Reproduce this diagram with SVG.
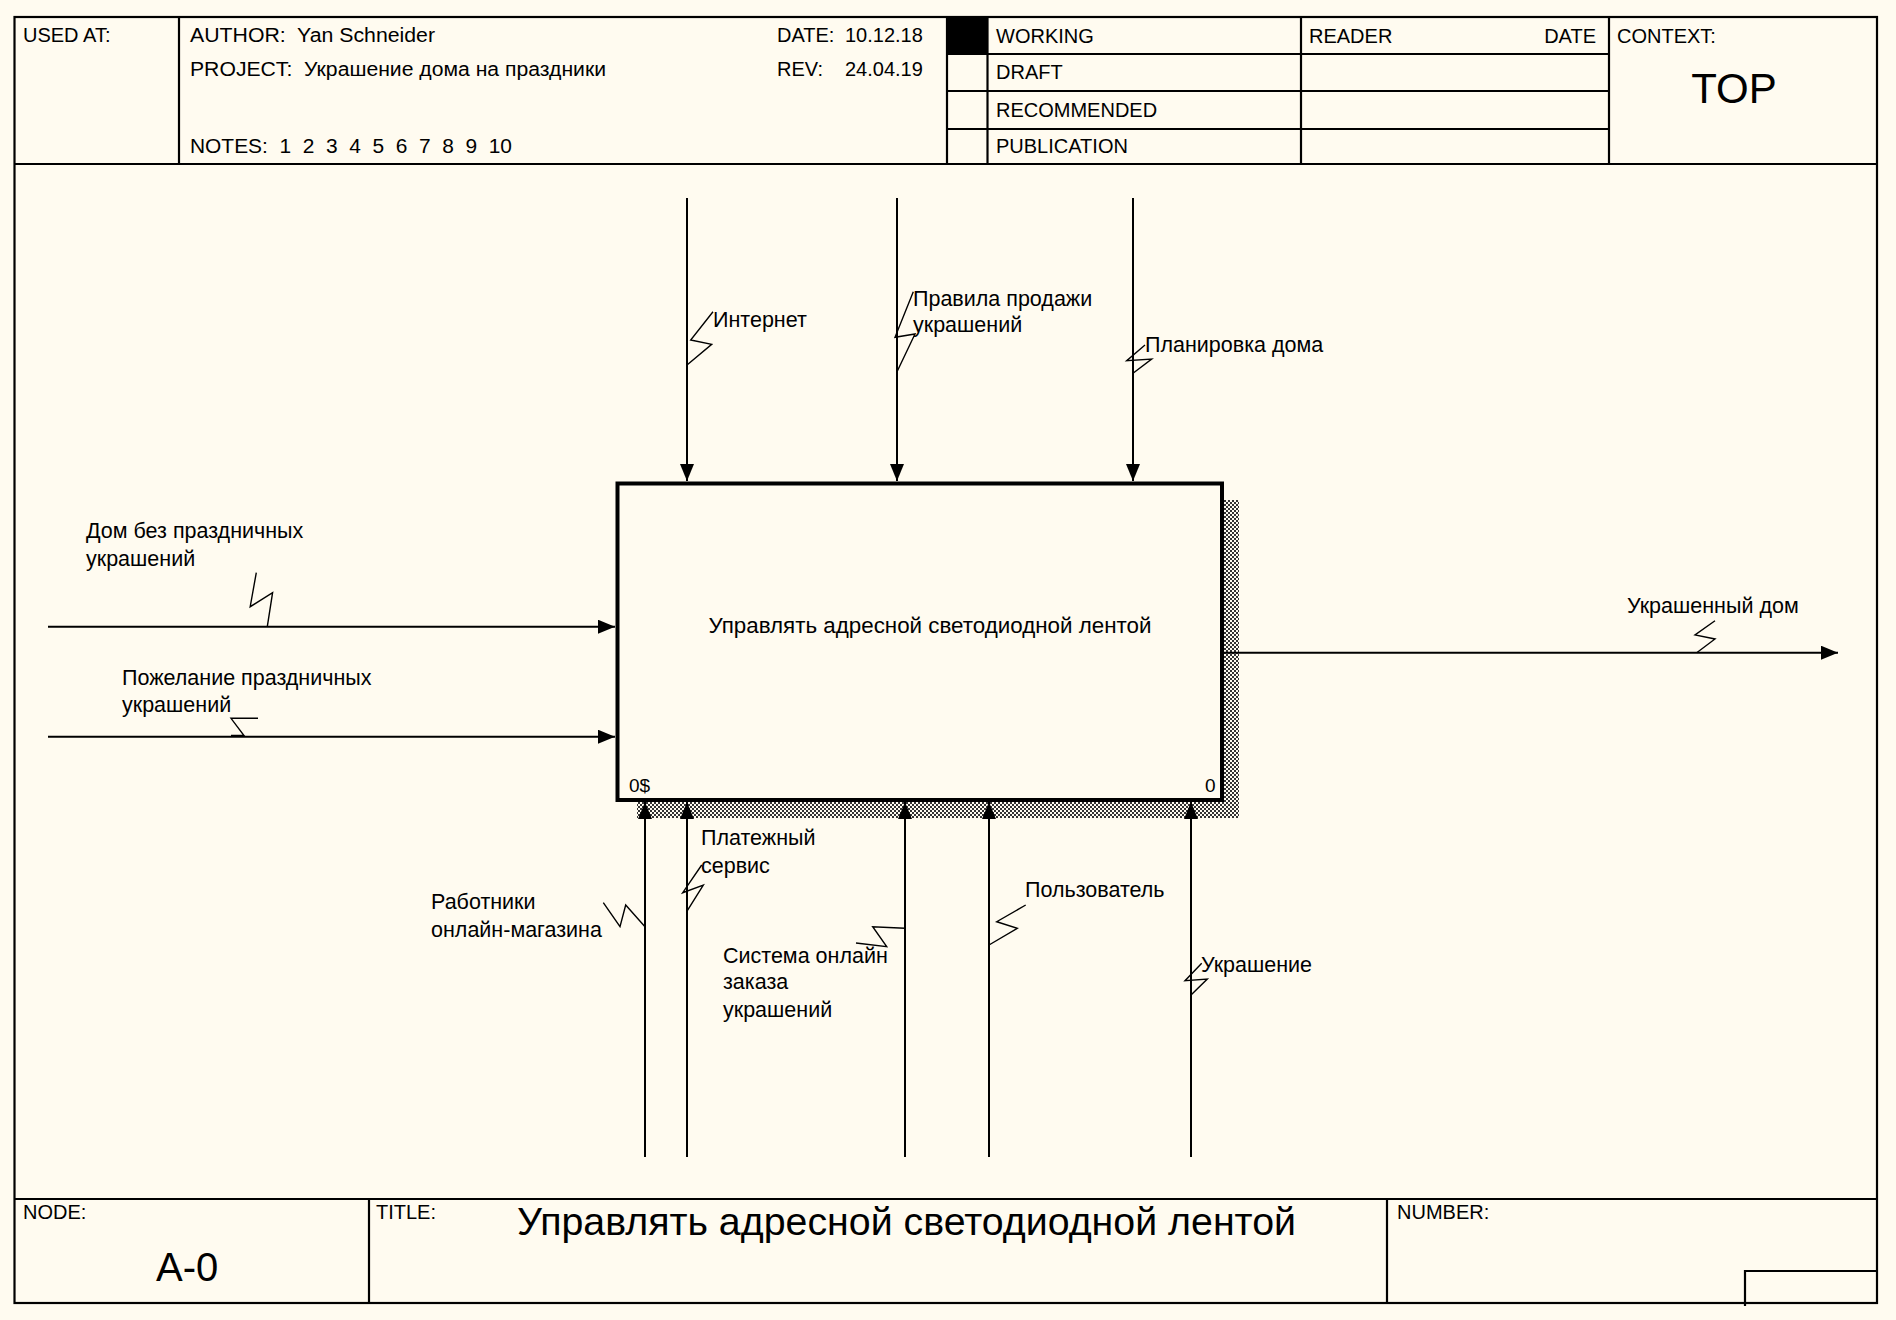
<svg xmlns="http://www.w3.org/2000/svg" width="1896" height="1320" viewBox="0 0 1896 1320">
<style>
.frame{fill:none;stroke:#000;stroke-width:2.2}
.hdr{font-family:"Liberation Sans",Arial,sans-serif;font-size:20px;fill:#000}
.lbl{font-family:"Liberation Sans",Arial,sans-serif;font-size:21.5px;fill:#000}
.conn{fill:none;stroke:#000;stroke-width:2}
.sq{fill:none;stroke:#000;stroke-width:1.4}
</style>
<defs>
<marker id="ah" markerUnits="userSpaceOnUse" markerWidth="18" markerHeight="14" refX="17" refY="7" orient="auto">
<path d="M0,0 L17,7 L0,14 Z" fill="#000"/>
</marker>
<pattern id="dots" width="4" height="4" patternUnits="userSpaceOnUse">
<rect width="4" height="4" fill="#FFFBF0"/>
<rect x="0" y="0" width="2" height="2" fill="#333"/>
<rect x="2" y="2" width="2" height="2" fill="#333"/>
</pattern>
</defs>
<rect width="1896" height="1320" fill="#FFFBF0"/>

<g id="frame">
<rect class="frame" x="14.5" y="17" width="1862.5" height="1286"/>
<line class="frame" x1="14.5" y1="164" x2="1877" y2="164"/>
<line class="frame" x1="14.5" y1="1199" x2="1877" y2="1199"/>
<line class="frame" x1="179" y1="17" x2="179" y2="164"/>
<line class="frame" x1="947" y1="17" x2="947" y2="164"/>
<line class="frame" x1="987.5" y1="17" x2="987.5" y2="164"/>
<line class="frame" x1="1301" y1="17" x2="1301" y2="164"/>
<line class="frame" x1="1609" y1="17" x2="1609" y2="164"/>
<line class="frame" x1="947" y1="54" x2="1609" y2="54"/>
<line class="frame" x1="947" y1="91" x2="1609" y2="91"/>
<line class="frame" x1="947" y1="129" x2="1609" y2="129"/>
<rect x="947" y="17" width="40.5" height="37" fill="#000"/>
<line class="frame" x1="369" y1="1199" x2="369" y2="1303"/>
<line class="frame" x1="1387" y1="1199" x2="1387" y2="1303"/>
<polyline class="frame" points="1745,1306 1745,1271 1877,1271"/>
</g>

<g id="header-text">
<text class="hdr" x="23" y="42">USED AT:</text>
<text class="hdr" x="190" y="42" xml:space="preserve" textLength="245" lengthAdjust="spacingAndGlyphs">AUTHOR:  Yan Schneider</text>
<text class="hdr" x="190" y="76" xml:space="preserve" textLength="416" lengthAdjust="spacingAndGlyphs">PROJECT:  Украшение дома на праздники</text>
<text class="hdr" x="190" y="153" xml:space="preserve" textLength="322" lengthAdjust="spacingAndGlyphs">NOTES:  1  2  3  4  5  6  7  8  9  10</text>
<text class="hdr" x="777" y="42">DATE:</text>
<text class="hdr" x="845" y="42">10.12.18</text>
<text class="hdr" x="777" y="76">REV:</text>
<text class="hdr" x="845" y="76">24.04.19</text>
<text class="hdr" x="996" y="43">WORKING</text>
<text class="hdr" x="996" y="79">DRAFT</text>
<text class="hdr" x="996" y="117">RECOMMENDED</text>
<text class="hdr" x="996" y="153">PUBLICATION</text>
<text class="hdr" x="1309" y="43">READER</text>
<text class="hdr" x="1596" y="43" text-anchor="end">DATE</text>
<text class="hdr" x="1617" y="43">CONTEXT:</text>
<text class="hdr" x="1734" y="103" text-anchor="middle" style="font-size:42px">TOP</text>
</g>

<g id="footer-text">
<text class="hdr" x="23" y="1219">NODE:</text>
<text class="hdr" x="156" y="1281" style="font-size:40px">A-0</text>
<text class="hdr" x="376" y="1219">TITLE:</text>
<text class="hdr" x="517" y="1235" style="font-size:39px" textLength="779" lengthAdjust="spacingAndGlyphs">Управлять адресной светодиодной лентой</text>
<text class="hdr" x="1397" y="1219">NUMBER:</text>
</g>

<g id="node-A0">
<rect x="637" y="500" width="602" height="318" fill="url(#dots)"/>
<rect x="617.5" y="483.5" width="604.5" height="316.5" fill="#FFFBF0" stroke="#000" stroke-width="4"/>
<text class="lbl" x="930" y="633" text-anchor="middle" textLength="443" lengthAdjust="spacingAndGlyphs">Управлять адресной светодиодной лентой</text>
<text class="lbl" x="629" y="792" style="font-size:19px">0$</text>
<text class="lbl" x="1205" y="792" style="font-size:19px">0</text>
</g>

<g id="connectors">
<path class="conn" d="M48,626.7 H615" marker-end="url(#ah)"/>
<path class="conn" d="M48,736.7 H615" marker-end="url(#ah)"/>
<path class="conn" d="M687,198 V481" marker-end="url(#ah)"/>
<path class="conn" d="M897,198 V481" marker-end="url(#ah)"/>
<path class="conn" d="M1133,198 V481" marker-end="url(#ah)"/>
<path class="conn" d="M1222,652.7 H1838" marker-end="url(#ah)"/>
<path class="conn" d="M645,1157 V802" marker-end="url(#ah)"/>
<path class="conn" d="M687,1157 V802" marker-end="url(#ah)"/>
<path class="conn" d="M905,1157 V802" marker-end="url(#ah)"/>
<path class="conn" d="M989,1157 V802" marker-end="url(#ah)"/>
<path class="conn" d="M1191,1157 V802" marker-end="url(#ah)"/>

<polyline class="sq" points="267.3,626.7 272.6,592.7 250.2,606.7 256.3,572.7"/>
<polyline class="sq" points="258,718.3 231,718.3 244,735.5 231,735.5"/>
<polyline class="sq" points="687,365 711.7,344.3 690.7,340 713,311.7"/>
<polyline class="sq" points="897,371.7 915,334 895,337.3 913.3,291.7"/>
<polyline class="sq" points="1133,373.3 1151.7,359 1126.7,360.7 1145,345"/>
<polyline class="sq" points="645,926.7 625.7,905 620,926.7 603.3,902.7"/>
<polyline class="sq" points="686.7,911.7 703.3,885 682.7,892.7 701.7,865"/>
<polyline class="sq" points="905,928.3 872.7,926.7 886.7,946.7 856,943"/>
<polyline class="sq" points="989,945 1017.3,928.3 996.7,921.7 1025.7,905"/>
<polyline class="sq" points="1191,995 1207.3,979 1185,980.7 1201.7,963.3"/>
<polyline class="sq" points="1696.7,652.7 1715,639 1695,635 1715,620.7"/>
</g>

<g id="labels">
<text class="lbl" x="86" y="538">Дом без праздничных</text>
<text class="lbl" x="86" y="566">украшений</text>
<text class="lbl" x="122" y="685">Пожелание праздничных</text>
<text class="lbl" x="122" y="712">украшений</text>
<text class="lbl" x="713" y="327">Интернет</text>
<text class="lbl" x="913" y="306">Правила продажи</text>
<text class="lbl" x="913" y="332">украшений</text>
<text class="lbl" x="1145" y="352">Планировка дома</text>
<text class="lbl" x="1627" y="613">Украшенный дом</text>
<text class="lbl" x="701" y="845">Платежный</text>
<text class="lbl" x="701" y="873">сервис</text>
<text class="lbl" x="431" y="909">Работники</text>
<text class="lbl" x="431" y="937">онлайн-магазина</text>
<text class="lbl" x="723" y="963">Система онлайн</text>
<text class="lbl" x="723" y="989">заказа</text>
<text class="lbl" x="723" y="1017">украшений</text>
<text class="lbl" x="1025" y="897">Пользователь</text>
<text class="lbl" x="1201" y="972">Украшение</text>
</g>
</svg>
